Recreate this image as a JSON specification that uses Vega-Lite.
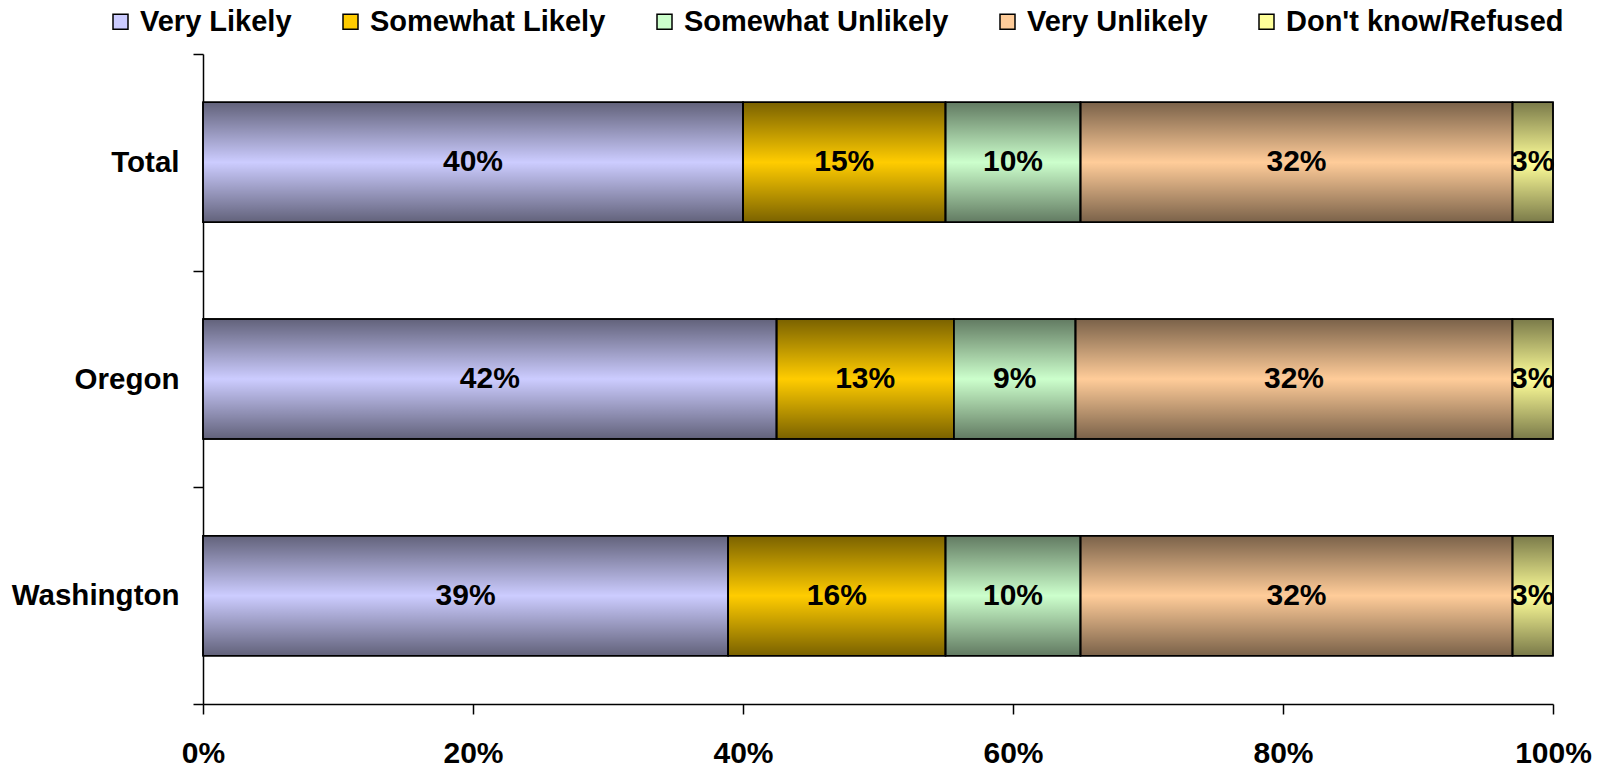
{
  "$schema": "https://vega.github.io/schema/vega-lite/v6.json",
  "autosize": "none",
  "width": 1350,
  "height": 650,
  "padding": {"left": 203, "top": 54, "right": 53, "bottom": 63},
  "background": "white",
  "config": {
    "view": {"stroke": null},
    "font": "Liberation Sans",
    "axis": {"grid": false}
  },
  "data": {
    "values": [
      {"region": "Total", "response": "Very Likely", "value": 0.40},
      {"region": "Total", "response": "Somewhat Likely", "value": 0.15},
      {"region": "Total", "response": "Somewhat Unlikely", "value": 0.10},
      {"region": "Total", "response": "Very Unlikely", "value": 0.32},
      {"region": "Total", "response": "Don't know/Refused", "value": 0.03},
      {"region": "Oregon", "response": "Very Likely", "value": 0.424},
      {"region": "Oregon", "response": "Somewhat Likely", "value": 0.131},
      {"region": "Oregon", "response": "Somewhat Unlikely", "value": 0.09},
      {"region": "Oregon", "response": "Very Unlikely", "value": 0.323},
      {"region": "Oregon", "response": "Don't know/Refused", "value": 0.03},
      {"region": "Washington", "response": "Very Likely", "value": 0.389},
      {"region": "Washington", "response": "Somewhat Likely", "value": 0.161},
      {"region": "Washington", "response": "Somewhat Unlikely", "value": 0.10},
      {"region": "Washington", "response": "Very Unlikely", "value": 0.32},
      {"region": "Washington", "response": "Don't know/Refused", "value": 0.03}
    ]
  },
  "transform": [
    {"calculate": "indexof(['Very Likely','Somewhat Likely','Somewhat Unlikely','Very Unlikely',\"Don't know/Refused\"], datum.response)", "as": "k"},
    {"stack": "value", "groupby": ["region"], "sort": [{"field": "k", "order": "ascending"}], "offset": "normalize", "as": ["x0", "x1"]},
    {"calculate": "(datum.x0 + datum.x1) / 2", "as": "xm"}
  ],
  "encoding": {
    "y": {
      "field": "region",
      "type": "nominal",
      "sort": ["Total", "Oregon", "Washington"],
      "scale": {"paddingInner": 0, "paddingOuter": 0},
      "axis": {
        "title": null,
        "tickBand": "extent",
        "tickSize": 10,
        "tickColor": "black",
        "tickWidth": 1.5,
        "domainColor": "black",
        "domainWidth": 1.5,
        "labelPadding": 14,
        "labelFontSize": 29.5,
        "labelFontWeight": "bold",
        "labelColor": "black",
        "labelFont": "Liberation Sans"
      }
    }
  },
  "layer": [
    {
      "mark": {"type": "bar", "stroke": "black", "strokeWidth": 1.5, "height": {"band": 0.554}},
      "encoding": {
        "x": {
          "field": "x0",
          "type": "quantitative",
          "scale": {"domain": [0, 1], "nice": false},
          "axis": {
            "title": null,
            "format": ".0%",
            "values": [0, 0.2, 0.4, 0.6, 0.8, 1],
            "tickSize": 10,
            "tickColor": "black",
            "tickWidth": 1.5,
            "domainColor": "black",
            "domainWidth": 1.5,
            "labelPadding": 24,
            "labelFontSize": 30,
            "labelFontWeight": "bold",
            "labelColor": "black",
            "labelFont": "Liberation Sans",
            "labelFlush": false
          }
        },
        "x2": {"field": "x1"},
        "color": {
          "field": "response",
          "type": "nominal",
          "scale": {
            "domain": ["Very Likely", "Somewhat Likely", "Somewhat Unlikely", "Very Unlikely", "Don't know/Refused"],
            "range": ["#CCCCFF", "#FFCC00", "#CCFFCC", "#FFCC99", "#FFFF99"]
          },
          "legend": {
            "title": null,
            "orient": "none",
            "direction": "horizontal",
            "legendX": -97,
            "legendY": -47,
            "symbolType": "square",
            "symbolSize": 225,
            "symbolStrokeColor": "black",
            "symbolStrokeWidth": 1.5,
            "symbolOpacity": 1,
            "labelFontSize": 29,
            "labelFontWeight": "bold",
            "labelColor": "black",
            "labelFont": "Liberation Sans",
            "labelOffset": 5,
            "columnPadding": 44,
            "labelLimit": 500
          }
        }
      }
    },
    {
      "mark": {
        "type": "bar",
        "stroke": "black",
        "strokeWidth": 1.5,
        "height": {"band": 0.554},
        "fill": {
          "gradient": "linear",
          "x1": 0, "y1": 0, "x2": 0, "y2": 1,
          "stops": [
            {"offset": 0, "color": "rgba(0,0,0,0.52)"},
            {"offset": 0.5, "color": "rgba(0,0,0,0)"},
            {"offset": 1, "color": "rgba(0,0,0,0.52)"}
          ]
        }
      },
      "encoding": {
        "x": {"field": "x0", "type": "quantitative"},
        "x2": {"field": "x1"}
      }
    },
    {
      "mark": {"type": "text", "fontSize": 30, "fontWeight": "bold", "color": "black", "font": "Liberation Sans"},
      "encoding": {
        "x": {"field": "xm", "type": "quantitative"},
        "text": {"field": "value", "type": "quantitative", "format": ".0%"}
      }
    }
  ]
}
